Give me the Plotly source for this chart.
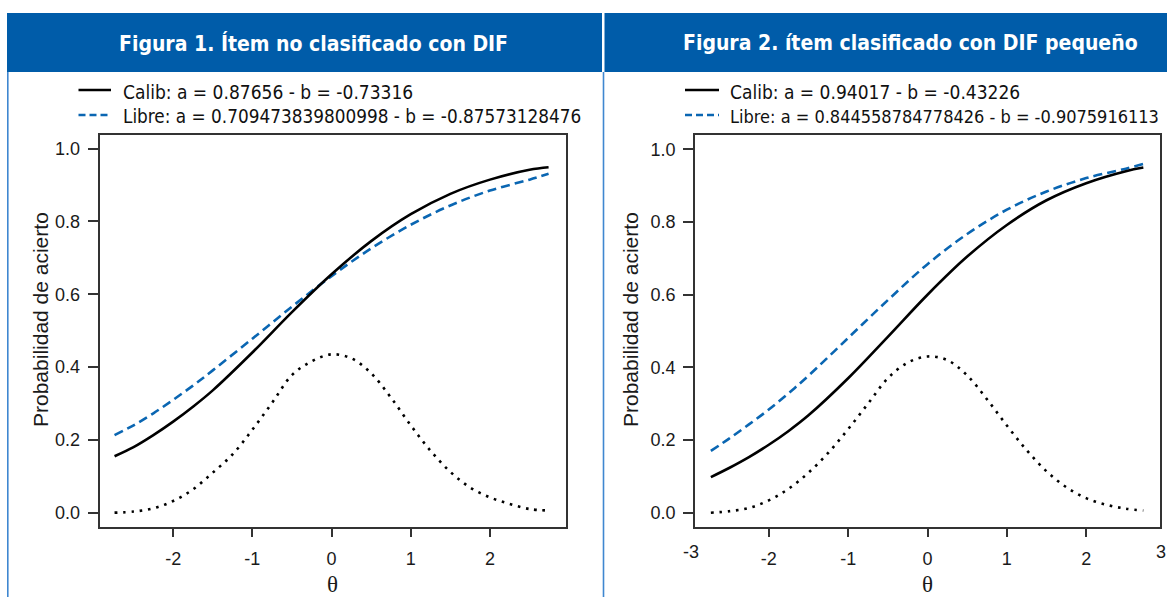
import plotly.graph_objects as go

W, H = 1167, 597

# ---------------- data ----------------
theta1 = [-2.74, -2.5, -2.25, -2.0, -1.75, -1.5, -1.0, -0.5, 0.0, 0.5, 1.0, 1.5, 2.0, 2.5, 2.74]
calib1 = [0.155, 0.180, 0.213, 0.250, 0.291, 0.336, 0.440, 0.551, 0.655, 0.746, 0.820, 0.876, 0.915, 0.942, 0.949]
libre1 = [0.213, 0.240, 0.273, 0.310, 0.349, 0.391, 0.478, 0.566, 0.650, 0.726, 0.791, 0.844, 0.885, 0.915, 0.931]

theta_d1 = [-2.74, -2.5, -2.25, -2.0, -1.75, -1.5, -1.25, -1.0, -0.75, -0.5, -0.25, 0.0,
            0.25, 0.5, 0.75, 1.0, 1.25, 1.5, 1.75, 2.0, 2.25, 2.5, 2.74]
dens1 = [0.000, 0.003, 0.012, 0.032, 0.064, 0.110, 0.160, 0.228, 0.302, 0.378, 0.416, 0.435,
         0.424, 0.383, 0.316, 0.240, 0.170, 0.112, 0.069, 0.042, 0.024, 0.010, 0.006]

theta2 = [-2.73, -2.5, -2.25, -2.0, -1.75, -1.5, -1.0, -0.5, 0.0, 0.5, 1.0, 1.5, 2.0, 2.5, 2.72]
calib2 = [0.098, 0.123, 0.153, 0.187, 0.225, 0.268, 0.370, 0.484, 0.600, 0.705, 0.792, 0.860, 0.907, 0.940, 0.950]
libre2 = [0.170, 0.204, 0.243, 0.284, 0.329, 0.377, 0.481, 0.585, 0.684, 0.767, 0.834, 0.884, 0.921, 0.947, 0.960]

theta_d2 = [-2.73, -2.5, -2.25, -2.0, -1.75, -1.5, -1.25, -1.0, -0.75, -0.5, -0.25, 0.0,
            0.25, 0.5, 0.75, 1.0, 1.25, 1.5, 1.75, 2.0, 2.25, 2.5, 2.72]
dens2 = [0.000, 0.004, 0.013, 0.034, 0.066, 0.110, 0.165, 0.230, 0.300, 0.370, 0.413, 0.430,
         0.420, 0.378, 0.312, 0.240, 0.172, 0.114, 0.070, 0.040, 0.022, 0.011, 0.006]

titles = ["Figura 1. Ítem no clasificado con DIF", "Figura 2. ítem clasificado con DIF pequeño"]
legend_calib = ["Calib: a = 0.87656 - b = -0.73316", "Calib: a = 0.94017 - b = -0.43226"]
legend_libre = ["Libre: a = 0.709473839800998 - b = -0.87573128476",
                "Libre: a = 0.844558784778426 - b = -0.9075916113"]
y_ticks = [0.0, 0.2, 0.4, 0.6, 0.8, 1.0]
y_ticktext = ["0.0", "0.2", "0.4", "0.6", "0.8", "1.0"]
x_ticks = [-2, -1, 0, 1, 2]
x_ticktext = ["-2", "-1", "0", "1", "2"]
y_title = "Probabilidad de acierto"
x_title = "θ"

# ---------------- styles ----------------
HEADER_BLUE = "#005ca9"
LINE_BLUE = "#0a66b2"
SIDE_BLUE = "#3f87d0"
AXIS_COL = "#333333"
SANS = "Liberation Sans, Arial, sans-serif"
NARROW = "Noto Sans Condensed, Liberation Sans Narrow, DejaVu Sans Condensed, sans-serif"
SERIF = "Liberation Serif, Times New Roman, serif"


def px(x):
    return x / W


def py(y):
    return 1 - y / H


fig = go.Figure()

panels = [
    dict(xa="x", ya="y", th=theta1, c=calib1, l=libre1, td=theta_d1, d=dens1),
    dict(xa="x2", ya="y2", th=theta2, c=calib2, l=libre2, td=theta_d2, d=dens2),
]
for p in panels:
    fig.add_trace(go.Scatter(x=p["td"], y=p["d"], mode="lines", xaxis=p["xa"], yaxis=p["ya"],
                             line=dict(color="black", width=2.6, dash="2.6px,5.8px", shape="spline"),
                             showlegend=False, hoverinfo="skip"))
    fig.add_trace(go.Scatter(x=p["th"], y=p["l"], mode="lines", xaxis=p["xa"], yaxis=p["ya"],
                             line=dict(color=LINE_BLUE, width=2.6, dash="9px,5px", shape="spline"),
                             showlegend=False, hoverinfo="skip"))
    fig.add_trace(go.Scatter(x=p["th"], y=p["c"], mode="lines", xaxis=p["xa"], yaxis=p["ya"],
                             line=dict(color="black", width=2.6, shape="spline"),
                             showlegend=False, hoverinfo="skip"))

ydom = [py(526.5), py(134.5)]
axis_common = dict(showline=True, mirror=True, linecolor=AXIS_COL, linewidth=1.5,
                   showgrid=False, zeroline=False, ticks="outside", tickcolor=AXIS_COL,
                   tickwidth=1.5, tickfont=dict(family=SANS, size=18, color="#1a1a1a"))

fig.update_layout(
    width=W, height=H, margin=dict(l=0, r=0, t=0, b=0),
    paper_bgcolor="white", plot_bgcolor="white",
    xaxis=dict(domain=[px(99.5), px(566)], range=[-2.93, 2.96], tickvals=x_ticks,
               ticktext=x_ticktext, ticklen=9, anchor="y", ticklabelstandoff=6, **axis_common),
    yaxis=dict(domain=ydom, range=[-0.038, 1.039], tickvals=y_ticks, ticktext=y_ticktext,
               ticklen=10, anchor="x", ticklabelstandoff=4, **axis_common),
    xaxis2=dict(domain=[px(695), px(1160)], range=[-2.93, 2.93], tickvals=x_ticks,
                ticktext=x_ticktext, ticklen=9, anchor="y2", ticklabelstandoff=6, **axis_common),
    yaxis2=dict(domain=ydom, range=[-0.038, 1.041], tickvals=y_ticks, ticktext=y_ticktext,
                ticklen=10, anchor="x2", ticklabelstandoff=4, **axis_common),
)

shapes = []
annotations = []

# header bars
shapes.append(dict(type="rect", xref="paper", yref="paper", x0=px(7), x1=px(602),
                   y0=py(72), y1=py(13), fillcolor=HEADER_BLUE, line=dict(width=0), layer="below"))
shapes.append(dict(type="rect", xref="paper", yref="paper", x0=px(604.5), x1=1,
                   y0=py(72), y1=py(13), fillcolor=HEADER_BLUE, line=dict(width=0), layer="below"))
# side frame lines
for xv in (7.8, 603.5):
    shapes.append(dict(type="line", xref="paper", yref="paper", x0=px(xv), x1=px(xv),
                       y0=py(72), y1=0, line=dict(color=SIDE_BLUE, width=1.6)))

title_x = [313, 910]
leg_line = [(78.5, 111), (685, 719)]
leg_text_x = [120.5, 728]
ytitle_x = [40, 630]
theta_x = [332.5, 927.5]
leg_size = [18.8, 18]

for i in range(2):
    annotations.append(dict(text="<b>" + titles[i] + "</b>", xref="paper", yref="paper",
                            x=px(title_x[i]), y=py(43), xanchor="center", yanchor="middle",
                            showarrow=False, font=dict(family=NARROW, size=21, color="white")))
    x0, x1 = leg_line[i]
    shapes.append(dict(type="line", xref="paper", yref="paper", x0=px(x0), x1=px(x1),
                       y0=py(90), y1=py(90), line=dict(color="black", width=2.6)))
    shapes.append(dict(type="line", xref="paper", yref="paper", x0=px(x0), x1=px(x1),
                       y0=py(115), y1=py(115), line=dict(color=LINE_BLUE, width=2.6, dash="7px,4px")))
    annotations.append(dict(text=legend_calib[i], xref="paper", yref="paper",
                            x=px(leg_text_x[i]), y=py(92), xanchor="left", yanchor="middle",
                            showarrow=False, font=dict(family=NARROW, size=19, color="#111")))
    annotations.append(dict(text=legend_libre[i], xref="paper", yref="paper",
                            x=px(leg_text_x[i]), y=py(117), xanchor="left", yanchor="middle",
                            showarrow=False, font=dict(family=NARROW, size=leg_size[i], color="#111")))
    annotations.append(dict(text=y_title, xref="paper", yref="paper", x=px(ytitle_x[i]),
                            y=py(320), textangle=-90, xanchor="center", yanchor="middle",
                            showarrow=False, font=dict(family=SANS, size=21, color="#1a1a1a")))
    annotations.append(dict(text=x_title, xref="paper", yref="paper", x=px(theta_x[i]),
                            y=py(584), xanchor="center", yanchor="middle",
                            showarrow=False, font=dict(family=SERIF, size=23, color="#1a1a1a")))

# edge labels of the second panel
for lab, xv in (("-3", 691), ("3", 1161)):
    annotations.append(dict(text=lab, xref="paper", yref="paper", x=px(xv), y=py(552),
                            xanchor="center", yanchor="middle", showarrow=False,
                            font=dict(family=SANS, size=18, color="#1a1a1a")))

fig.update_layout(shapes=shapes, annotations=annotations)
fig.write_html("out.html", config={"displayModeBar": False},
               post_script="document.body.style.margin='0';document.body.style.overflow='hidden';")
